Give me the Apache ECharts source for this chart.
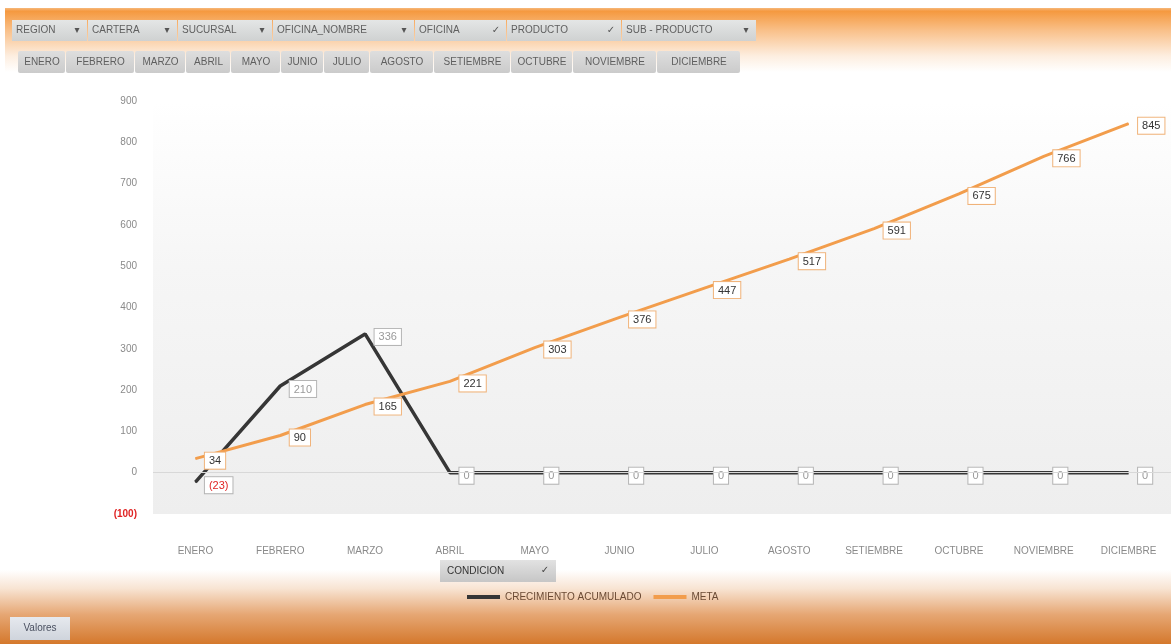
<!DOCTYPE html>
<html>
<head>
<meta charset="utf-8">
<title>Crecimiento acumulado vs meta</title>
<script src="https://cdn.jsdelivr.net/npm/echarts@6/dist/echarts.min.js"></script>
<style>
  html, body { margin: 0; padding: 0; background: #fff; }
  #chart { width: 1171px; height: 644px; }
</style>
</head>
<body>
<div id="chart"></div>
<script>
// Months on the category axis
const months = ['ENERO', 'FEBRERO', 'MARZO', 'ABRIL', 'MAYO', 'JUNIO', 'JULIO',
  'AGOSTO', 'SETIEMBRE', 'OCTUBRE', 'NOVIEMBRE', 'DICIEMBRE'];

// Series values
const crecimientoAcumulado = [-23, 210, 336, 0, 0, 0, 0, 0, 0, 0, 0, 0];
const meta = [34, 90, 165, 221, 303, 376, 447, 517, 591, 675, 766, 845];

// Value axis range
const yMin = -100;
const yMax = 900;
const yStep = 100;

// Pivot field buttons
const filterFields = ['REGION', 'CARTERA', 'SUCURSAL', 'OFICINA_NOMBRE', 'OFICINA', 'PRODUCTO', 'SUB - PRODUCTO'];
const filterIcons = ['▾', '▾', '▾', '▾', '✓', '✓', '▾'];
const seriesNames = ['CRECIMIENTO ACUMULADO', 'META'];
const legendField = 'CONDICION';
const valuesField = 'Valores';

// Button geometry (pixels)
const filterSpans = [[12, 88], [88, 178], [178, 273], [273, 415], [415, 507], [507, 622], [622, 757]];
const monthSpans = [[18, 66], [66, 135], [135, 186], [186, 231], [231, 281], [281, 324], [324, 370],
  [370, 434], [434, 511], [511, 573], [573, 657], [657, 741]];

const FONT = '"Liberation Sans", Arial, sans-serif';
const chart = echarts.init(document.getElementById('chart'));

function fmtNum(v) {
  return v < 0 ? '{neg|(' + Math.abs(v) + ')}' : String(v);
}

function grad(stops) {
  return new echarts.graphic.LinearGradient(0, 0, 0, 1,
    stops.map(c => ({ offset: c[0], color: c[1] })));
}

const graphics = [];

// Orange header band and footer band
graphics.push({
  type: 'rect', z: -10, silent: true,
  shape: { x: 5, y: 8, width: 1166, height: 64 },
  style: { fill: grad([[0, '#f6b87c'], [0.05, '#f5993f'], [0.35, '#f9c089'], [0.75, '#fdeee0'], [1, '#ffffff']]) }
});
graphics.push({
  type: 'rect', z: -10, silent: true,
  shape: { x: 0, y: 570, width: 1171, height: 74 },
  style: { fill: grad([[0, '#ffffff'], [0.25, '#f8e4d3'], [0.6, '#e6a774'], [1, '#d4782c']]) }
});

// Field buttons, first row
filterFields.forEach((name, i) => {
  const [x0, x1] = filterSpans[i];
  graphics.push({
    type: 'rect', z: 1, silent: true,
    shape: { x: x0, y: 20, width: x1 - x0 - 1, height: 21 },
    style: { fill: grad([[0, '#e4e6e6'], [1, '#cfd1d1']]) }
  });
  graphics.push({
    type: 'text', z: 2, silent: true, x: x0 + 4, y: 30.5,
    style: { text: name, fill: '#5f5f5f', font: '10px ' + FONT, verticalAlign: 'middle' }
  });
  graphics.push({
    type: 'text', z: 2, silent: true, x: x1 - 11, y: 30.5,
    style: { text: filterIcons[i], fill: '#555', font: '10px "DejaVu Sans"', verticalAlign: 'middle', align: 'center' }
  });
});

// Month buttons, second row
months.forEach((name, i) => {
  const [x0, x1] = monthSpans[i];
  graphics.push({
    type: 'rect', z: 1, silent: true,
    shape: { x: x0, y: 51, width: x1 - x0 - 1, height: 22, r: 2 },
    style: { fill: grad([[0, '#dedede'], [1, '#cbcbcb']]) }
  });
  graphics.push({
    type: 'text', z: 2, silent: true, x: (x0 + x1) / 2, y: 62,
    style: { text: name, fill: '#5f5f5f', font: '10px ' + FONT, verticalAlign: 'middle', align: 'center' }
  });
});

// Legend field button
graphics.push({
  type: 'rect', z: 1, silent: true,
  shape: { x: 440, y: 560, width: 116, height: 22 },
  style: { fill: grad([[0, '#e2e2e2'], [1, '#c6c6c6']]) }
});
graphics.push({
  type: 'text', z: 2, silent: true, x: 447, y: 571,
  style: { text: legendField, fill: '#333', font: '10px ' + FONT, verticalAlign: 'middle' }
});
graphics.push({
  type: 'text', z: 2, silent: true, x: 545, y: 570,
  style: { text: '✓', fill: '#444', font: '10px "DejaVu Sans"', verticalAlign: 'middle', align: 'center' }
});

// Values field button
graphics.push({
  type: 'rect', z: 1, silent: true,
  shape: { x: 10, y: 617, width: 60, height: 23 },
  style: { fill: grad([[0, '#e6e9ee'], [1, '#cfd4dc']]) }
});
graphics.push({
  type: 'text', z: 2, silent: true, x: 40, y: 628.5,
  style: { text: valuesField, fill: '#4a5060', font: '10px ' + FONT, verticalAlign: 'middle', align: 'center' }
});

const negRich = { neg: { color: '#e02424', fontFamily: FONT, fontSize: 11 } };

chart.setOption({
  animation: false,
  textStyle: { fontFamily: FONT },
  graphic: graphics,
  legend: {
    left: 462, top: 587,
    itemWidth: 33, itemHeight: 4, itemGap: 12,
    icon: 'rect',
    textStyle: { color: '#6a4a34', fontSize: 10, fontFamily: FONT },
    data: seriesNames
  },
  grid: {
    left: 153, top: 101, width: 1022, height: 413,
    show: true, borderWidth: 0,
    backgroundColor: grad([[0, '#ffffff'], [0.4, '#f6f6f6'], [1, '#eeeeee']])
  },
  xAxis: {
    type: 'category',
    data: months,
    boundaryGap: true,
    axisLine: { show: false },
    axisTick: { show: false },
    axisLabel: { margin: 32, color: '#8a8a8a', fontSize: 10 }
  },
  yAxis: {
    type: 'value',
    min: yMin, max: yMax, interval: yStep,
    splitLine: { show: false },
    axisLine: { show: false },
    axisTick: { show: false },
    axisLabel: {
      margin: 16, color: '#8a8a8a', fontSize: 10,
      formatter: v => fmtNum(v),
      rich: { neg: { color: '#e02424', fontWeight: 'bold', fontSize: 10 } }
    }
  },
  series: [
    {
      name: seriesNames[0],
      type: 'line',
      data: crecimientoAcumulado,
      symbol: 'circle',
      symbolSize: 1,
      showSymbol: true,
      z: 2,
      lineStyle: { color: '#363636', width: 3.5 },
      itemStyle: { color: '#363636' },
      label: {
        show: true, position: 'right', distance: 9, offset: [0, 3],
        formatter: p => fmtNum(p.value),
        fontSize: 11, color: '#9a9a9a',
        backgroundColor: '#ffffff', borderColor: '#b5b5b5', borderWidth: 1,
        padding: [3, 4, 2, 4],
        rich: negRich
      }
    },
    {
      name: seriesNames[1],
      type: 'line',
      data: meta,
      symbol: 'circle',
      symbolSize: 1,
      showSymbol: true,
      z: 2,
      lineStyle: { color: '#f29d4c', width: 3 },
      itemStyle: { color: '#f29d4c' },
      label: {
        show: true, position: 'right', distance: 9, offset: [0, 2],
        formatter: p => fmtNum(p.value),
        fontSize: 11, color: '#333333',
        backgroundColor: '#ffffff', borderColor: '#f0b37a', borderWidth: 1,
        padding: [3, 4, 2, 4],
        rich: negRich
      },
      markLine: {
        silent: true, symbol: 'none',
        label: { show: false },
        lineStyle: { color: '#d8d8d8', width: 1, type: 'solid' },
        data: [{ yAxis: 0 }]
      }
    }
  ]
});
</script>
</body>
</html>
